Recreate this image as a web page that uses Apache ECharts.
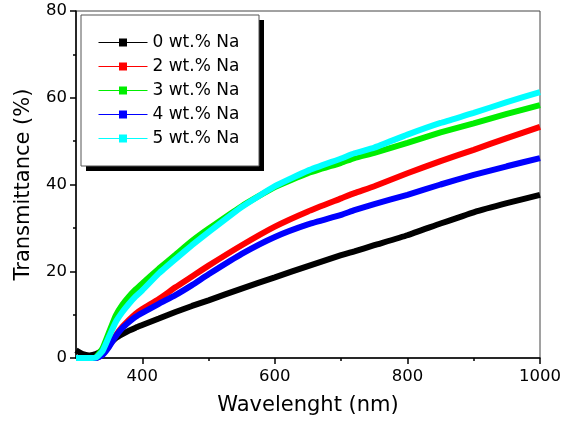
<!DOCTYPE html>
<html>
<head>
<meta charset="utf-8">
<script src="https://cdn.jsdelivr.net/npm/echarts@6/dist/echarts.min.js"></script>
<style>
  html, body { margin: 0; padding: 0; background: #fff; }
  #chart { width: 584px; height: 422px; }
</style>
</head>
<body>
<div id="chart"></div>
<script>
// wavelength samples (nm)
var wavelengths = [300, 310, 320, 330, 340, 350, 360, 370, 380, 390, 400, 425, 450, 475, 500, 550, 600, 650, 700, 720, 750, 800, 850, 900, 950, 1000];

// transmittance (%)
var na0 = [1.8, 0.9, 0.6, 0.9, 1.8, 3.2, 4.6, 5.5, 6.3, 7.0, 7.6, 9.1, 10.6, 12.0, 13.3, 16.0, 18.6, 21.2, 23.7, 24.6, 26.0, 28.3, 31.0, 33.6, 35.7, 37.6];
var na2 = [0, 0, 0, 0, 0.8, 2.8, 5.2, 7.2, 8.8, 10.2, 11.3, 13.6, 16.3, 18.8, 21.3, 26.0, 30.3, 33.8, 36.8, 38.0, 39.6, 42.6, 45.4, 48.0, 50.7, 53.3];
var na3 = [0, 0, 0, 0.2, 2.2, 6.0, 9.8, 12.3, 14.2, 15.8, 17.2, 20.6, 23.8, 27.0, 29.8, 35.0, 39.4, 42.6, 45.0, 46.1, 47.3, 49.6, 52.0, 54.1, 56.3, 58.3];
var na4 = [0, 0, 0, 0, 0.7, 2.6, 5.0, 6.9, 8.3, 9.5, 10.4, 12.5, 14.5, 16.8, 19.3, 24.0, 27.9, 30.8, 33.0, 34.1, 35.5, 37.6, 40.0, 42.2, 44.2, 46.1];
var na5 = [0, 0, 0, 0.1, 1.6, 5.0, 8.3, 10.6, 12.5, 14.2, 15.6, 19.5, 22.8, 26.0, 29.0, 34.8, 39.6, 43.2, 46.0, 47.2, 48.5, 51.5, 54.2, 56.5, 59.0, 61.3];

var seriesNames = ['0 wt.% Na', '2 wt.% Na', '3 wt.% Na', '4 wt.% Na', '5 wt.% Na'];
var seriesColors = ['#000000', '#ff0000', '#00ee00', '#0000ff', '#00ffff'];
var seriesData = [na0, na2, na3, na4, na5];

var xMajor = [400, 600, 800, 1000];
var xMinor = [500, 700, 900];

var font = 'DejaVu Sans';

function pairs(ys) {
    var out = [];
    for (var i = 0; i < wavelengths.length; i++) {
        out.push([wavelengths[i], ys[i]]);
    }
    return out;
}

var chart = echarts.init(document.getElementById('chart'));

var series = [];
for (var i = 0; i < seriesNames.length; i++) {
    series.push({
        name: seriesNames[i],
        type: 'line',
        xAxisIndex: 0,
        yAxisIndex: 0,
        smooth: 0.15,
        symbol: 'rect',
        symbolSize: 9,
        showSymbol: false,
        color: seriesColors[i],
        lineStyle: { width: 6, color: seriesColors[i] },
        data: pairs(seriesData[i]),
        z: 2 + i
    });
}

chart.setOption({
    animation: false,
    backgroundColor: '#fff',
    grid: {
        left: 76, right: 44, top: 11, bottom: 64,
        show: true,
        borderColor: '#444',
        borderWidth: 1
    },
    // legend frame with its drop shadow
    graphic: [
        { type: 'rect', z: 100, shape: { x: 86, y: 20, width: 178, height: 151 }, style: { fill: '#000' } },
        { type: 'rect', z: 101, shape: { x: 81, y: 15, width: 178, height: 151 }, style: { fill: '#fff', stroke: '#555', lineWidth: 1 } }
    ],
    legend: {
        orient: 'vertical',
        left: 81,
        top: 15,
        z: 200,
        data: seriesNames,
        itemWidth: 49,
        itemHeight: 10,
        itemGap: 7,
        padding: [19, 0, 0, 17],
        lineStyle: { width: 1 },
        textStyle: { fontFamily: font, fontSize: 17, color: '#000' }
    },
    xAxis: [{
        type: 'value',
        min: 300,
        max: 1000,
        interval: 100,
        name: 'Wavelenght (nm)',
        nameLocation: 'middle',
        nameGap: 37,
        nameTextStyle: { fontFamily: font, fontSize: 21, color: '#000' },
        axisLine: { show: true, onZero: false, lineStyle: { color: '#000', width: 1.5 } },
        axisTick: { show: true, inside: false, length: 6, customValues: xMajor, lineStyle: { color: '#000', width: 1.5 } },
        axisLabel: {
            customValues: xMajor, margin: 10, fontFamily: font, fontSize: 16.5, color: '#000',
            formatter: function (v) { return String(v); }
        },
        splitLine: { show: false }
    }, {
        type: 'value',
        min: 300,
        max: 1000,
        interval: 100,
        position: 'bottom',
        axisLine: { show: false },
        axisTick: { show: true, inside: false, length: 3, customValues: xMinor, lineStyle: { color: '#000', width: 1.5 } },
        axisLabel: { show: false },
        splitLine: { show: false }
    }],
    yAxis: {
        type: 'value',
        min: 0,
        max: 80,
        interval: 20,
        name: 'Transmittance (%)',
        nameLocation: 'middle',
        nameGap: 42,
        nameTextStyle: { fontFamily: font, fontSize: 21, color: '#000' },
        axisLine: { show: true, lineStyle: { color: '#000', width: 1.5 } },
        axisTick: { show: true, inside: false, length: 6, lineStyle: { color: '#000', width: 1.5 } },
        minorTick: { show: true, splitNumber: 2, length: 3, lineStyle: { color: '#000', width: 1.5 } },
        axisLabel: { margin: 9, fontFamily: font, fontSize: 16.5, color: '#000' },
        splitLine: { show: false }
    },
    series: series
});
</script>
</body>
</html>
